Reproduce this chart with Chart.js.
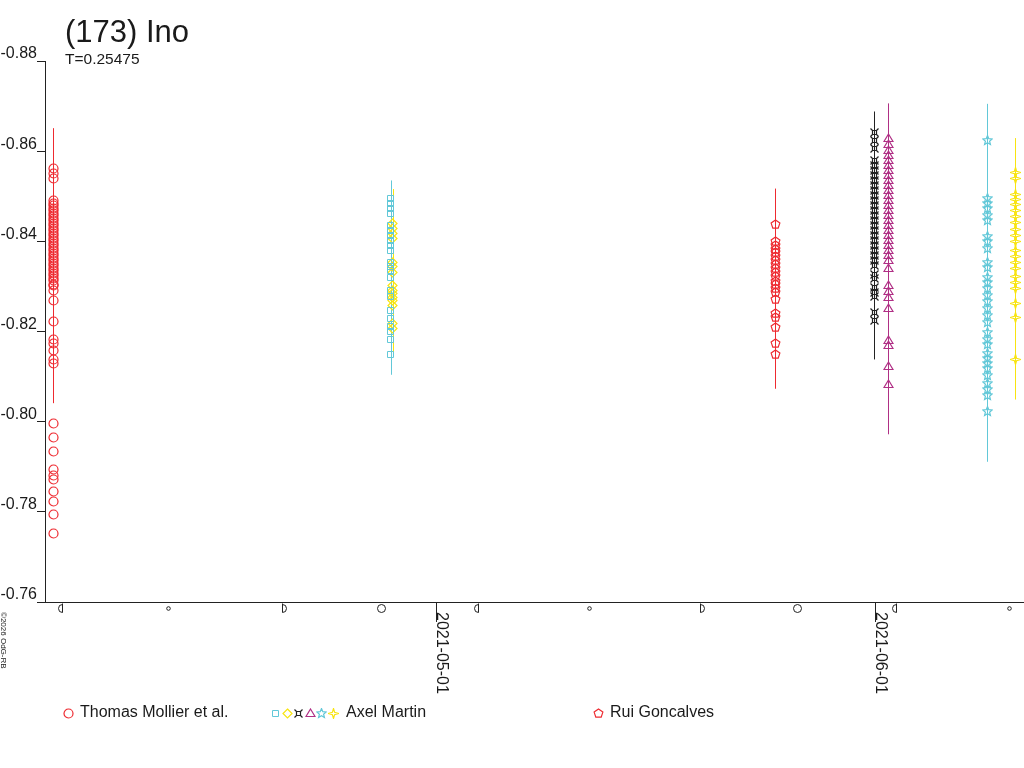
<!DOCTYPE html>
<html>
<head>
<meta charset="utf-8">
<script src="https://cdn.jsdelivr.net/npm/chart.js@4.4.1/dist/chart.umd.min.js"></script>
<style>
html, body { margin: 0; padding: 0; background: #fff; }
canvas { display: block; }
</style>
</head>
<body>
<canvas id="lc" width="1024" height="768"></canvas>
<script>
var titleText = "(173) Ino";
var periodText = "T=0.25475";
var creditText = "\u00a92026 OdG-RB";

// x is days since 2021-05-01 00:00 UTC
var xMin = -27.61, xMax = 41.52;
var dateTicks = [0, 31];
var dateLabels = ["2021-05-01", "2021-06-01"];
var yTicks = [-0.88, -0.86, -0.84, -0.82, -0.80, -0.78, -0.76];

var moonDays = [-26.58, -18.9, -10.71, -3.85, 2.83, 10.79, 18.8, 25.47, 32.31, 40.45];
var moonPhases = ["lq", "new", "fq", "full", "lq", "new", "fq", "full", "lq", "new"];

// Thomas Mollier et al.
var mollierX = -27.01;
var mollierY = [-0.8562,-0.8551,-0.8540,-0.8491,-0.8485,-0.8479,-0.8472,-0.8468,-0.8461,-0.8457,
  -0.8450,-0.8446,-0.8440,-0.8435,-0.8429,-0.8424,-0.8418,-0.8413,-0.8406,-0.8402,
  -0.8395,-0.8390,-0.8384,-0.8379,-0.8372,-0.8368,-0.8361,-0.8357,-0.8350,-0.8346,
  -0.8340,-0.8335,-0.8329,-0.8324,-0.8318,-0.8313,-0.8305,-0.8301,-0.8290,-0.8268,
  -0.8223,-0.8183,-0.8174,-0.8157,-0.8139,-0.8128,-0.7996,-0.7965,-0.7934,-0.7894,
  -0.7881,-0.7872,-0.7845,-0.7823,-0.7794,-0.7752];
var mollierErr = [0.004,0.004,0.004,0.005,0.005,0.005,0.005,0.005,0.005,0.005,
  0.005,0.005,0.005,0.005,0.005,0.005,0.005,0.005,0.005,0.005,
  0.005,0.005,0.005,0.005,0.005,0.005,0.005,0.005,0.005,0.0305,
  0.005,0.005,0.005,0.005,0.005,0.005,0.005,0.005,0.004,0.004,
  0.003,0.003,0.003,0.003,0.003,0.003,0,0,0,0,
  0,0,0,0,0,0];

// Axel Martin, session 1 (squares)
var amSquareX = -3.18;
var amSquareY = [-0.8495,-0.8484,-0.8473,-0.8462,-0.8435,-0.8424,-0.8413,-0.8402,-0.8390,-0.8379,
  -0.8353,-0.8344,-0.8335,-0.8319,-0.8290,-0.8277,-0.8246,-0.8228,-0.8212,-0.8201,-0.8183,-0.8150];
var amSquareErr = [0.004,0.004,0.004,0.005,0.005,0.005,0.005,0.005,0.005,0.005,
  0.005,0.005,0.005,0.0215,0.005,0.005,0.004,0.004,0.004,0.004,0.004,0.004];

// Axel Martin, session 2 (diamonds)
var amDiamondX = -3.04;
var amDiamondY = [-0.8439,-0.8428,-0.8417,-0.8406,-0.8353,-0.8344,-0.8330,-0.8301,-0.8290,-0.8284,
  -0.8275,-0.8268,-0.8257,-0.8217,-0.8206];
var amDiamondErr = [0.004,0.004,0.004,0.004,0.004,0.004,0.0186,0.004,0.004,0.004,
  0.004,0.004,0.004,0.004,0.004];

// Rui Goncalves (pentagons)
var ruiX = 23.94;
var ruiY = [-0.8437,-0.8399,-0.8390,-0.8382,-0.8375,-0.8366,-0.8357,-0.8348,-0.8339,-0.8330,
  -0.8321,-0.8312,-0.8304,-0.8295,-0.8286,-0.8272,-0.8241,-0.8232,-0.8208,-0.8174,-0.8148];
var ruiErr = [0.005,0.005,0.005,0.005,0.005,0.005,0.005,0.005,0.005,0.005,
  0.005,0.005,0.005,0.0222,0.005,0.005,0.005,0.005,0.005,0.005,0.005];

// Axel Martin, session 3 (black)
var amCurX = 30.93;
var amCurY = [-0.8642,-0.8624,-0.8606,-0.8580,-0.8568,-0.8557,-0.8546,-0.8535,-0.8524,-0.8513,
  -0.8502,-0.8491,-0.8479,-0.8468,-0.8457,-0.8446,-0.8435,-0.8424,-0.8413,-0.8402,
  -0.8390,-0.8379,-0.8368,-0.8357,-0.8346,-0.8326,-0.8317,-0.8297,-0.8286,-0.8277,-0.8243,-0.8225];
var amCurErr = [0.004,0.004,0.004,0.005,0.005,0.005,0.005,0.005,0.005,0.005,
  0.005,0.005,0.005,0.005,0.005,0.005,0.005,0.005,0.0275,0.005,
  0.005,0.005,0.005,0.005,0.005,0.004,0.004,0.004,0.004,0.004,0.003,0.003];

// Axel Martin, session 4 (triangles)
var amTriX = 31.92;
var amTriY = [-0.8629,-0.8615,-0.8602,-0.8591,-0.8580,-0.8568,-0.8557,-0.8546,-0.8535,-0.8524,
  -0.8513,-0.8502,-0.8491,-0.8479,-0.8468,-0.8457,-0.8446,-0.8435,-0.8424,-0.8413,
  -0.8402,-0.8390,-0.8379,-0.8368,-0.8357,-0.8339,-0.8301,-0.8288,-0.8275,-0.8252,
  -0.8181,-0.8170,-0.8123,-0.8083];
var amTriErr = [0.005,0.005,0.005,0.005,0.005,0.005,0.005,0.005,0.005,0.005,
  0.005,0.005,0.005,0.005,0.005,0.005,0.005,0.005,0.005,0.005,
  0.005,0.005,0.005,0.005,0.005,0.0367,0.005,0.005,0.005,0.005,
  0.004,0.004,0.004,0.004];

// Axel Martin, session 5 (stars)
var amStarX = 38.91;
var amStarY = [-0.8624,-0.8495,-0.8484,-0.8473,-0.8457,-0.8446,-0.8410,-0.8399,-0.8384,-0.8353,
  -0.8341,-0.8319,-0.8308,-0.8295,-0.8279,-0.8266,-0.8252,-0.8235,-0.8221,-0.8197,
  -0.8183,-0.8172,-0.8152,-0.8141,-0.8130,-0.8117,-0.8103,-0.8085,-0.8072,-0.8057,-0.8023];
var amStarErr = [0.004,0.006,0.006,0.006,0.006,0.006,0.006,0.006,0.006,0.006,
  0.006,0.006,0.0397,0.030,0.006,0.006,0.006,0.006,0.006,0.006,
  0.006,0.006,0.006,0.006,0.006,0.006,0.006,0.006,0.006,0.006,0.006];

// Axel Martin, session 6 (4-point stars)
var amStar4X = 40.89;
var amStar4Y = [-0.8553,-0.8540,-0.8504,-0.8493,-0.8482,-0.8468,-0.8455,-0.8442,-0.8426,-0.8413,
  -0.8399,-0.8379,-0.8366,-0.8353,-0.8339,-0.8321,-0.8308,-0.8295,-0.8261,-0.8230,-0.8139];
var amStar4Err = [0.006,0.006,0.006,0.006,0.006,0.006,0.006,0.006,0.006,0.006,
  0.006,0.006,0.006,0.006,0.029,0.006,0.006,0.006,0.005,0.005,0.004];

var RED = '#ee2a30', CYAN = '#62c8d8', YELLOW = '#f8e410', MAGENTA = '#b02f85', BLACK = '#222222';
var FONT = '"Liberation Sans", Arial, sans-serif';

function polyPath(ctx, c, n, rOut, rIn, start) {
  var k = rIn ? 2 * n : n;
  ctx.beginPath();
  for (var i = 0; i < k; i++) {
    var r = (rIn && i % 2) ? rIn : rOut;
    var a = start + i * Math.PI * 2 / k;
    var px = c + r * Math.cos(a), py = c + r * Math.sin(a);
    if (i === 0) ctx.moveTo(px, py); else ctx.lineTo(px, py);
  }
  ctx.closePath();
}

// marker canvases are 11x11, centre 5.5
var shapes = {
  circle: function(ctx, c) { ctx.beginPath(); ctx.arc(c, c, 4.5, 0, Math.PI * 2); },
  square: function(ctx, c) { ctx.beginPath(); ctx.rect(2.5, 2.5, 6, 6); },
  diamond: function(ctx, c) { polyPath(ctx, c, 4, 4.5, 0, -Math.PI / 2); },
  triangle: function(ctx, c) {
    ctx.beginPath(); ctx.moveTo(c, 1); ctx.lineTo(c + 4.5, 8.5); ctx.lineTo(c - 4.5, 8.5); ctx.closePath();
  },
  pentagon: function(ctx, c) { polyPath(ctx, c, 5, 4.6, 0, -Math.PI / 2); },
  star: function(ctx, c) { polyPath(ctx, c, 5, 5, 2.2, -Math.PI / 2); },
  star4: function(ctx, c) { polyPath(ctx, c, 4, 5, 1.6, -Math.PI / 2); },
  curr: function(ctx, c) {
    ctx.beginPath();
    ctx.rect(3.5, 3.5, 4, 4);
    ctx.moveTo(1.5, 1.5); ctx.lineTo(3.5, 3.5);
    ctx.moveTo(9.5, 1.5); ctx.lineTo(7.5, 3.5);
    ctx.moveTo(9.5, 9.5); ctx.lineTo(7.5, 7.5);
    ctx.moveTo(1.5, 9.5); ctx.lineTo(3.5, 7.5);
  }
};

function makeMarker(shape, color) {
  var cv = document.createElement('canvas');
  cv.width = 11; cv.height = 11;
  var ctx = cv.getContext('2d');
  ctx.strokeStyle = color;
  ctx.lineWidth = (shape === 'square') ? 1 : 1.2;
  shapes[shape](ctx, 5.5);
  ctx.stroke();
  return cv;
}

var sessions = [
  { label: 'Thomas Mollier et al.', x: mollierX, y: mollierY, err: mollierErr, shape: 'circle', color: RED },
  { label: 'Axel Martin', x: amSquareX, y: amSquareY, err: amSquareErr, shape: 'square', color: CYAN },
  { label: 'Axel Martin', x: amDiamondX, y: amDiamondY, err: amDiamondErr, shape: 'diamond', color: YELLOW },
  { label: 'Rui Goncalves', x: ruiX, y: ruiY, err: ruiErr, shape: 'pentagon', color: RED },
  { label: 'Axel Martin', x: amCurX, y: amCurY, err: amCurErr, shape: 'curr', color: BLACK },
  { label: 'Axel Martin', x: amTriX, y: amTriY, err: amTriErr, shape: 'triangle', color: MAGENTA },
  { label: 'Axel Martin', x: amStarX, y: amStarY, err: amStarErr, shape: 'star', color: CYAN },
  { label: 'Axel Martin', x: amStar4X, y: amStar4Y, err: amStar4Err, shape: 'star4', color: YELLOW }
];

sessions.forEach(function(s) { s.marker = makeMarker(s.shape, s.color); });

var datasets = sessions.map(function(s) {
  return {
    label: s.label,
    data: s.y.map(function(v) { return { x: s.x, y: v }; }),
    pointStyle: s.marker,
    pointRadius: 5,
    borderColor: s.color,
    backgroundColor: 'transparent',
    showLine: false
  };
});

var legendItems = [
  { text: 'Thomas Mollier et al.', textX: 80, marks: [[68, 'circle', RED]] },
  { text: 'Axel Martin', textX: 346, marks: [[275, 'square', CYAN], [287, 'diamond', YELLOW], [298, 'curr', BLACK],
    [310, 'triangle', MAGENTA], [321, 'star', CYAN], [333, 'star4', YELLOW]] },
  { text: 'Rui Goncalves', textX: 610, marks: [[598, 'pentagon', RED]] }
];

function drawMoon(ctx, x, phase) {
  var y = 608.5;
  ctx.beginPath();
  if (phase === 'new') {
    ctx.arc(x, y, 1.8, 0, Math.PI * 2);
  } else if (phase === 'full') {
    ctx.arc(x, y, 4, 0, Math.PI * 2);
  } else if (phase === 'fq') {
    ctx.moveTo(x - 2, y - 5); ctx.lineTo(x - 2, y + 4);
    ctx.arc(x - 2, y, 4, Math.PI / 2, -Math.PI / 2, true);
  } else {
    ctx.moveTo(x + 2, y - 5); ctx.lineTo(x + 2, y + 4);
    ctx.arc(x + 2, y, 4, Math.PI / 2, 3 * Math.PI / 2, false);
  }
  ctx.stroke();
}

var extras = {
  id: 'extras',
  beforeDatasetsDraw: function(chart) {
    var ctx = chart.ctx, xs = chart.scales.x, ys = chart.scales.y;
    ctx.imageSmoothingEnabled = false;
    ctx.save();
    ctx.lineWidth = 1;
    sessions.forEach(function(s) {
      var px = Math.round(xs.getPixelForValue(s.x)) + 0.5;
      ctx.strokeStyle = s.color;
      ctx.beginPath();
      s.y.forEach(function(v, i) {
        if (!s.err[i]) return;
        ctx.moveTo(px, ys.getPixelForValue(v - s.err[i]));
        ctx.lineTo(px, ys.getPixelForValue(v + s.err[i]));
      });
      ctx.stroke();
    });
    ctx.restore();
  },
  afterDraw: function(chart) {
    var ctx = chart.ctx, xs = chart.scales.x;
    ctx.save();
    ctx.fillStyle = '#1a1a1a';
    ctx.textAlign = 'left';
    ctx.textBaseline = 'alphabetic';
    ctx.font = '31px ' + FONT;
    ctx.fillText(titleText, 65, 42);
    ctx.font = '15.5px ' + FONT;
    ctx.fillText(periodText, 65, 64);

    // rotated date labels
    ctx.font = '16px ' + FONT;
    dateTicks.forEach(function(v, i) {
      var px = Math.round(xs.getPixelForValue(v));
      ctx.save();
      ctx.translate(px + 1, 612);
      ctx.rotate(Math.PI / 2);
      ctx.fillText(dateLabels[i], 0, 0);
      ctx.restore();
    });

    // moon phases
    ctx.strokeStyle = '#222';
    ctx.lineWidth = 1;
    moonDays.forEach(function(d, i) {
      drawMoon(ctx, Math.round(xs.getPixelForValue(d)) + 0.5, moonPhases[i]);
    });

    // credit
    ctx.save();
    ctx.font = '8px ' + FONT;
    ctx.translate(1, 612);
    ctx.rotate(Math.PI / 2);
    ctx.fillText(creditText, 0, 0);
    ctx.restore();

    // legend
    ctx.font = '16px ' + FONT;
    ctx.textBaseline = 'middle';
    legendItems.forEach(function(it) {
      it.marks.forEach(function(m) {
        ctx.drawImage(makeMarker(m[1], m[2]), m[0] - 5, 713 - 5);
      });
      ctx.fillText(it.text, it.textX, 713);
    });
    ctx.restore();
  }
};

var ctx = document.getElementById('lc').getContext('2d');
var chart = new Chart(ctx, {
  type: 'scatter',
  data: { datasets: datasets },
  options: {
    responsive: false,
    devicePixelRatio: 1,
    animation: false,
    events: [],
    layout: { autoPadding: false, padding: { top: 61, right: 0, bottom: 0, left: 0 } },
    plugins: { legend: { display: false }, tooltip: { enabled: false }, title: { display: false } },
    scales: {
      x: {
        type: 'linear',
        min: xMin,
        max: xMax,
        afterBuildTicks: function(scale) { scale.ticks = dateTicks.map(function(v) { return { value: v }; }); },
        afterFit: function(scale) { scale.height = 166; },
        grid: { drawOnChartArea: false, drawTicks: true, tickLength: 20, color: '#222' },
        border: { display: true, color: '#222', width: 1 },
        ticks: { display: false }
      },
      y: {
        type: 'linear',
        min: -0.88,
        max: -0.76,
        reverse: true,
        afterBuildTicks: function(scale) { scale.ticks = yTicks.map(function(v) { return { value: v }; }); },
        afterFit: function(scale) { scale.width = 45; },
        grid: { drawOnChartArea: false, tickLength: 8, color: '#222' },
        border: { display: true, color: '#222', width: 1 },
        ticks: {
          callback: function(v) { return v.toFixed(2); },
          font: { family: FONT, size: 16 },
          color: '#1a1a1a',
          padding: 0,
          labelOffset: -7
        }
      }
    }
  },
  plugins: [extras]
});
</script>
</body>
</html>
